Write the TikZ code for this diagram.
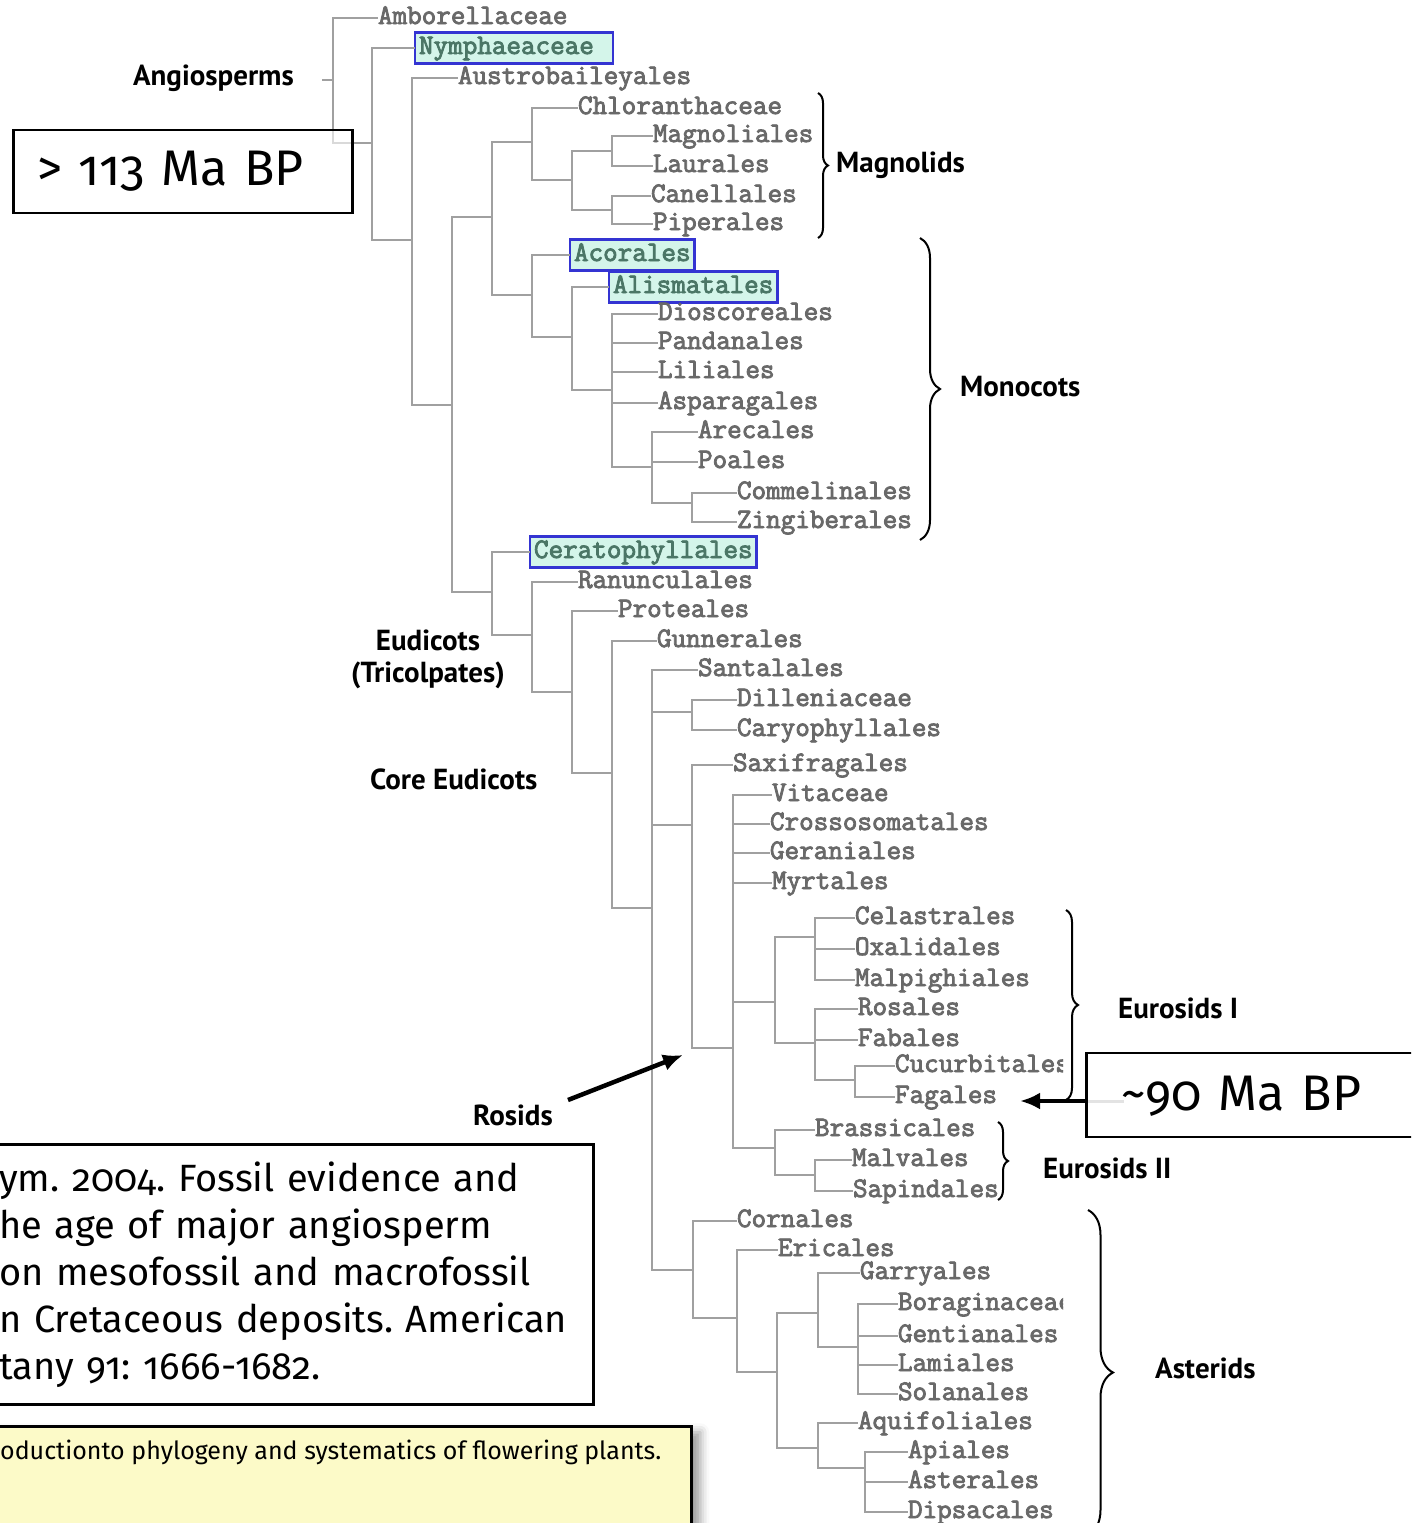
\documentclass[tikz,border=0pt]{standalone}
\usepackage{fontspec}
\newfontfamily\cladefont{PT Sans}
\newfontfamily\agefont[Numbers=OldStyle]{Fira Sans}
\newfontfamily\taxonfont[FakeBold=3]{Latin Modern Mono}
\usetikzlibrary{arrows.meta,decorations.pathreplacing,shadows.blur}
\frenchspacing

\definecolor{branchgray}{RGB}{160,160,160}
\definecolor{leafgray}{RGB}{105,105,105}
\definecolor{hlblue}{RGB}{52,52,210}
\definecolor{hlfill}{RGB}{212,245,234}
\definecolor{hltext}{RGB}{75,118,102}
\definecolor{noteyellow}{RGB}{252,250,200}

\begin{document}
\begin{tikzpicture}[x=1pt,y=-1pt,
  branch/.style={draw=branchgray, line width=2.5pt},
  jn/.style={inner sep=0pt, outer sep=0pt, minimum size=0pt},
  leaf/.style={anchor=west, inner sep=0pt, outer sep=0pt, text height=17pt, text depth=5pt,
    text=leafgray, font=\fontsize{28.3}{32}\taxonfont},
  hl/.style={leaf, draw=hlblue, fill=hlfill, line width=2.5pt, inner xsep=4pt, inner ysep=4.5pt, text=hltext},
  clade/.style={font=\fontsize{29}{32}\cladefont\bfseries, inner sep=0pt},
  agebox/.style={draw=black, line width=2.5pt, font=\fontsize{50}{60}\agefont, align=left},
  brc/.style={decorate, decoration={brace, amplitude=#1}, line width=2pt},
  bigarrow/.style={line width=4.5pt, -{Latex[length=20pt,width=17pt]}},
]
\clip (0,0) rectangle (1411,1523);

% ---------- junctions of the cladogram ----------
\node[jn] (R0)    at (333,80) {};
\node[jn] (N1)    at (372,143) {};
\node[jn] (N2)    at (412,240) {};
\node[jn] (N3)    at (452,405) {};
\node[jn] (N4)    at (492,217) {};
\node[jn] (N5)    at (532,142) {};
\node[jn] (N6)    at (572,180) {};
\node[jn] (N7)    at (612,151) {};
\node[jn] (N8)    at (612,210) {};
\node[jn] (Nmono) at (532,295) {};
\node[jn] (N9)    at (572,337) {};
\node[jn] (N10)   at (612,390) {};
\node[jn] (N11)   at (652,467) {};
\node[jn] (N12)   at (692,503) {};
\node[jn] (Neud)  at (492,592) {};
\node[jn] (N13)   at (532,635) {};
\node[jn] (N14)   at (572,692) {};
\node[jn] (N15)   at (612,773) {};
\node[jn] (N16)   at (652,908) {};
\node[jn] (N17)   at (692,712) {};
\node[jn] (N18)   at (692,825) {};
\node[jn] (N19)   at (733,1048) {};
\node[jn] (N20)   at (775,1002) {};
\node[jn] (N22)   at (815,937) {};
\node[jn] (N23)   at (815,1043) {};
\node[jn] (N24)   at (855,1080) {};
\node[jn] (N21)   at (775,1148) {};
\node[jn] (N25)   at (815,1175) {};
\node[jn] (N26)   at (693,1270) {};
\node[jn] (N27)   at (737,1318) {};
\node[jn] (N28)   at (777,1372) {};
\node[jn] (N29)   at (818,1313) {};
\node[jn] (N31)   at (858,1347) {};
\node[jn] (N30)   at (818,1448) {};
\node[jn] (N32)   at (865,1468) {};
\coordinate (stub) at (322,80);

% ---------- taxa ----------
\node[leaf] (amb) at (378,18) {Amborellaceae};
\node[hl, text width=190pt, align=left] (nym) at (415,48) {Nymphaeaceae};
\node[leaf] (aus) at (458,78) {Austrobaileyales};
\node[leaf] (chl) at (578,108) {Chloranthaceae};
\node[leaf] (mag) at (653,136) {Magnoliales};
\node[leaf] (lau) at (653,166) {Laurales};
\node[leaf] (can) at (651,196) {Canellales};
\node[leaf] (pip) at (653,224) {Piperales};
\node[hl] (aco) at (570,255) {Acorales};
\node[hl] (ali) at (609,287) {Alismatales};
\node[leaf] (dio) at (658,314) {Dioscoreales};
\node[leaf] (pan) at (658,343) {Pandanales};
\node[leaf] (lil) at (658,372) {Liliales};
\node[leaf] (asp) at (658,403) {Asparagales};
\node[leaf] (are) at (698,432) {Arecales};
\node[leaf] (poa) at (698,462) {Poales};
\node[leaf] (com) at (737,493) {Commelinales};
\node[leaf] (zin) at (737,522) {Zingiberales};
\node[hl] (cer) at (530,552) {Ceratophyllales};
\node[leaf] (ran) at (578,582) {Ranunculales};
\node[leaf] (pro) at (618,611) {Proteales};
\node[leaf] (gun) at (657,641) {Gunnerales};
\node[leaf] (san) at (698,670) {Santalales};
\node[leaf] (dil) at (737,700) {Dilleniaceae};
\node[leaf] (car) at (737,730) {Caryophyllales};
\node[leaf] (sax) at (733,765) {Saxifragales};
\node[leaf] (vit) at (772,795) {Vitaceae};
\node[leaf] (cro) at (770,824) {Crossosomatales};
\node[leaf] (ger) at (770,853) {Geraniales};
\node[leaf] (myr) at (772,883) {Myrtales};
\node[leaf] (cel) at (855,918) {Celastrales};
\node[leaf] (oxa) at (855,949) {Oxalidales};
\node[leaf] (mal) at (855,980) {Malpighiales};
\node[leaf] (ros) at (858,1009) {Rosales};
\node[leaf] (fab) at (858,1040) {Fabales};
\node[leaf] (fag) at (895,1097) {Fagales};
\node[leaf] (bra) at (815,1130) {Brassicales};
\node[leaf] (mlv) at (852,1160) {Malvales};
\node[leaf] (sap) at (853,1191) {Sapindales};
\node[leaf] (cor) at (737,1221) {Cornales};
\node[leaf] (eri) at (778,1250) {Ericales};
\node[leaf] (gar) at (860,1273) {Garryales};
\node[leaf] (gen) at (898,1336) {Gentianales};
\node[leaf] (lam) at (898,1365) {Lamiales};
\node[leaf] (sol) at (898,1394) {Solanales};
\node[leaf] (aqu) at (858,1423) {Aquifoliales};
\node[leaf] (api) at (908,1452) {Apiales};
\node[leaf] (ast) at (908,1482) {Asterales};
\node[leaf] (dip) at (908,1512) {Dipsacales};
\begin{scope}
  \clip (840,1040) rectangle (1063,1320);
  \node[leaf] (cuc) at (895,1066) {Cucurbitales};
  \node[leaf] (bor) at (898,1304) {Boraginaceae};
\end{scope}

% ---------- branches ----------
\draw[branch] (stub) -- (R0);
\foreach \p/\c in {R0/amb, R0/N1, N1/nym, N1/N2, N2/aus, N2/N3, N3/N4, N3/Neud,
    N4/N5, N4/Nmono, N5/chl, N5/N6, N6/N7, N6/N8, N7/mag, N7/lau, N8/can, N8/pip,
    Nmono/aco, Nmono/N9, N9/ali, N9/N10, N10/dio, N10/pan, N10/lil, N10/asp, N10/N11,
    N11/are, N11/poa, N11/N12, N12/com, N12/zin,
    Neud/cer, Neud/N13, N13/ran, N13/N14, N14/pro, N14/N15, N15/gun, N15/N16,
    N16/san, N16/N17, N16/N18, N16/N26, N17/dil, N17/car, N18/sax, N18/N19,
    N19/vit, N19/cro, N19/ger, N19/myr, N19/N20, N19/N21,
    N20/N22, N20/N23, N22/cel, N22/oxa, N22/mal, N23/ros, N23/fab, N23/N24,
    N24/cuc, N24/fag, N21/bra, N21/N25, N25/mlv, N25/sap,
    N26/cor, N26/N27, N27/eri, N27/N28, N28/N29, N28/N30, N29/gar, N29/N31,
    N31/bor, N31/gen, N31/lam, N31/sol, N30/aqu, N30/N32, N32/api, N32/ast, N32/dip}
  \draw[branch] (\p) |- (\c.west);

% ---------- clade names and braces ----------
\node[clade, anchor=east] (angio) at (294,78) {Angiosperms};
\draw[brc=10pt] (818,93) -- (818,238);
\node[clade, anchor=west] (magn) at (836,165) {Magnolids};
\draw[brc=20pt] (920,238) -- (920,540);
\node[clade, anchor=west] (mono) at (960,387) {Monocots};
\node[clade, align=center] (eud) at (428,659) {Eudicots\\(Tricolpates)};
\node[clade, anchor=west] (core) at (370,779) {Core Eudicots};
\node[clade, anchor=west] (rosids) at (473,1115) {Rosids};
\draw[brc=12pt] (1066,910) -- (1066,1100);
\node[clade, anchor=west] (euro1) at (1118,1008) {Eurosids I};
\draw[brc=10pt] (998,1122) -- (998,1200);
\node[clade, anchor=west] (euro2) at (1043,1168) {Eurosids II};
\draw[brc=25pt] (1088,1210) -- (1088,1535);
\node[clade, anchor=west] (aster) at (1155,1368) {Asterids};

% ---------- ages ----------
\node[agebox, fill=white, fill opacity=.6, text opacity=1, anchor=west,
      inner xsep=24pt, text width=291pt, minimum height=83pt] (old) at (12,171.5) {> 113 Ma BP};
\node[agebox, fill=white, anchor=west, inner xsep=35pt, text width=330pt,
      text height=38pt, text depth=8pt, minimum height=84pt] (ninety) at (1085,1095) {\textasciitilde90 Ma BP};
\draw[line width=3pt, gray!22] ([yshift=-6pt,xshift=3pt]ninety.west) -- ++(36,0);
\coordinate (fagtip) at (1020,1101);
\draw[bigarrow] ([yshift=-6pt]ninety.west) -- (fagtip);
\coordinate (rosidstail) at (568,1100);
\coordinate (rosidshead) at (683,1055);
\draw[bigarrow] (rosidstail) -- (rosidshead);

% ---------- references ----------
\node[draw=black, line width=2.5pt, fill=white, anchor=north west, inner xsep=10pt,
      text width=584pt, minimum height=260pt, align=left,
      font=\fontsize{38}{47}\agefont] (cite) at (-12,1143)
  {ym. 2004. Fossil evidence and\\he age of major angiosperm\\on mesofossil and macrofossil\\n Cretaceous deposits. American\\tany 91: 1666-1682.};
\node[draw=black, line width=2.5pt, fill=noteyellow, anchor=north west,
      minimum width=702pt, minimum height=130pt,
      blur shadow={shadow xshift=9pt, shadow yshift=-6pt, shadow blur radius=9pt}] (note) at (-12,1425) {};
\node[anchor=west, inner sep=0pt, font=\fontsize{25}{30}\agefont] (notetext) at (0,1452)
  {oductionto phylogeny and systematics of flowering plants.};
\end{tikzpicture}
\end{document}
